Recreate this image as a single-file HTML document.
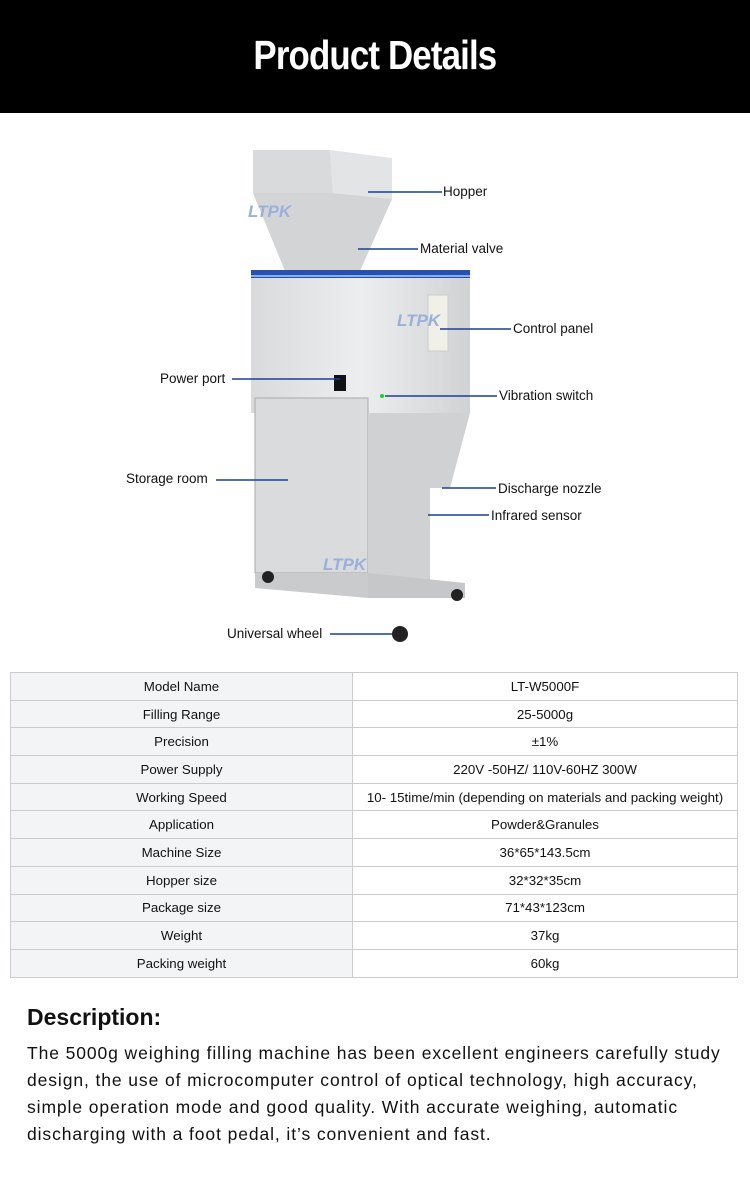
<!DOCTYPE html>
<html><head><style>
body{margin:0;width:750px;height:1199px;background:#fff;font-family:"Liberation Sans","DejaVu Sans",sans-serif;position:relative;overflow:hidden}
.hd{position:absolute;left:0;top:0;width:750px;height:113px;background:#000;color:#fff;text-align:center;font-weight:bold;font-size:41px;line-height:110px;letter-spacing:-1px}
.lb{position:absolute;font-size:13.5px;color:#111;white-space:nowrap}
table{position:absolute;left:10px;top:672px;width:728px;border-collapse:collapse;font-size:13.3px;color:#111}
td{border:1px solid #ccc;height:26.7px;padding:0;text-align:center}
td:first-child{width:341px;background:#f3f4f6}
h2{position:absolute;left:27px;top:1004px;margin:0;font-size:23px;font-weight:bold;color:#111}
p{position:absolute;left:27px;top:1040px;width:720px;margin:0;font-size:17.5px;line-height:27px;color:#111;letter-spacing:0.9px;white-space:nowrap}
</style></head><body>
<div class="hd"><span style="display:inline-block;transform:scaleX(0.85)">Product Details</span></div>
<svg style="position:absolute;left:0;top:113px" width="750" height="550">
<defs><linearGradient id="g" x1="0" x2="1"><stop offset="0" stop-color="#d8dadc"/><stop offset=".5" stop-color="#eceeef"/><stop offset="1" stop-color="#d0d2d4"/></linearGradient></defs>
<polygon points="253,37 330,37 333,80 253,80" fill="#d9dadc"/>
<polygon points="330,37 392,45 392,86 333,80" fill="#e3e4e6"/>
<polygon points="253,80 333,80 392,86 360,158 285,158" fill="#d2d4d6"/>
<polygon points="251,157 470,157 470,300 251,300" fill="url(#g)"/>
<polygon points="251,157 470,157 470,165 251,165" fill="#2a4fb0"/>
<rect x="251" y="162" width="219" height="2" fill="#7fb3f0"/>
<rect x="428" y="182" width="20" height="56" fill="#f0efe8" stroke="#ccc"/>
<rect x="334" y="262" width="12" height="16" fill="#111"/>
<circle cx="382" cy="283" r="2" fill="#2c2"/>
<rect x="255" y="285" width="113" height="175" fill="#d9dbdd" stroke="#aaa"/>
<polygon points="368,300 470,300 450,375 430,375 430,480 368,480" fill="#cfd1d3"/>
<polygon points="368,460 465,470 465,485 368,485" fill="#c5c7c9"/>
<polygon points="255,460 368,460 368,485 255,475" fill="#c9cbcd"/>
<circle cx="268" cy="464" r="6" fill="#222"/><circle cx="457" cy="482" r="6" fill="#222"/><circle cx="400" cy="521" r="8" fill="#222"/>
<text x="248" y="104" fill="#9ab0da" font-size="17" font-style="italic" font-weight="bold">LTPK</text>
<text x="397" y="213" fill="#9ab0da" font-size="17" font-style="italic" font-weight="bold">LTPK</text>
<text x="323" y="457" fill="#9ab0da" font-size="17" font-style="italic" font-weight="bold">LTPK</text>
<g stroke="#1b3f9a" stroke-width="1.5">
<line x1="368" y1="79" x2="442" y2="79"/><line x1="358" y1="136" x2="418" y2="136"/>
<line x1="440" y1="216" x2="511" y2="216"/><line x1="232" y1="266" x2="340" y2="266"/>
<line x1="385" y1="283" x2="497" y2="283"/><line x1="216" y1="367" x2="288" y2="367"/>
<line x1="442" y1="375" x2="496" y2="375"/><line x1="428" y1="402" x2="489" y2="402"/>
<line x1="330" y1="521" x2="392" y2="521"/></g>
</svg>
<div class="lb" style="left:443px;top:184px">Hopper</div>
<div class="lb" style="left:420px;top:241px">Material valve</div>
<div class="lb" style="left:513px;top:321px">Control panel</div>
<div class="lb" style="left:160px;top:371px">Power port</div>
<div class="lb" style="left:499px;top:388px">Vibration switch</div>
<div class="lb" style="left:126px;top:471px">Storage room</div>
<div class="lb" style="left:498px;top:481px">Discharge nozzle</div>
<div class="lb" style="left:491px;top:508px">Infrared sensor</div>
<div class="lb" style="left:227px;top:626px">Universal wheel</div>
<table>
<tr><td>Model Name</td><td>LT-W5000F</td></tr>
<tr><td>Filling Range</td><td>25-5000g</td></tr>
<tr><td>Precision</td><td>±1%</td></tr>
<tr><td>Power Supply</td><td>220V -50HZ/ 110V-60HZ 300W</td></tr>
<tr><td>Working Speed</td><td>10- 15time/min (depending on materials and packing weight)</td></tr>
<tr><td>Application</td><td>Powder&amp;Granules</td></tr>
<tr><td>Machine Size</td><td>36*65*143.5cm</td></tr>
<tr><td>Hopper size</td><td>32*32*35cm</td></tr>
<tr><td>Package size</td><td>71*43*123cm</td></tr>
<tr><td>Weight</td><td>37kg</td></tr>
<tr><td>Packing weight</td><td>60kg</td></tr>
</table>
<h2>Description:</h2>
<p>The 5000g weighing filling machine has been excellent engineers carefully study<br>design, the use of microcomputer control of optical technology, high accuracy,<br>simple operation mode and good quality. With accurate weighing, automatic<br>discharging with a foot pedal, it’s convenient and fast.</p>
</body></html>
